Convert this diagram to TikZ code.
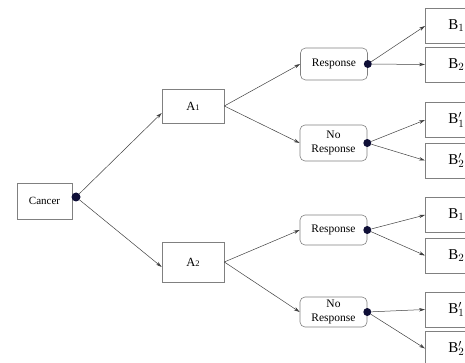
\documentclass[tikz,border=0pt]{standalone}
\usepackage{fontspec}
\setmainfont{Liberation Serif}
\usetikzlibrary{arrows.meta}

\definecolor{dotblue}{RGB}{15,15,55}

\tikzset{
  box/.style={draw=black!50, line width=0.6pt, inner sep=0pt, align=center},
  rbox/.style={box, rounded corners=5pt, minimum width=67pt, font=\fontsize{11.5}{13.5}\selectfont},
  bbox/.style={box, anchor=west, minimum width=62pt, minimum height=35pt, font=\fontsize{15}{17}\selectfont},
  dot/.style={circle, fill=dotblue, inner sep=0pt, minimum size=8pt},
  link/.style={draw=black!75, line width=0.5pt, -{Stealth[length=6pt,width=3.5pt]}},
}

\begin{document}
\begin{tikzpicture}[x=1pt,y=-1pt]
\clip (0,0) rectangle (465,363);

% root
\node[box, minimum width=55pt, minimum height=36pt, font=\fontsize{11}{13}\selectfont] (cancer) at (44.5,201) {Cancer};
\node[dot, minimum size=9pt] (d0) at (76,197) {};

% treatments
\node[box, minimum width=62pt, minimum height=34pt, font=\fontsize{12.5}{14}\selectfont] (a1) at (193,106) {A{\fontsize{8.5}{9}\selectfont 1}};
\node[box, minimum width=62pt, minimum height=40pt, font=\fontsize{12.5}{14}\selectfont] (a2) at (193,262) {A{\fontsize{8.5}{9}\selectfont 2}};

% responses
\node[rbox, minimum height=32pt] (r1) at (334,64) {Response};
\node[rbox, minimum height=36pt] (n1) at (333.5,143) {No\\Response};
\node[rbox, minimum height=30pt] (r2) at (333.5,230) {Response};
\node[rbox, minimum height=30pt] (n2) at (333.5,312) {No\\Response};

% outcomes
\foreach \y/\lab/\nm in {26/B$_1$/b1, 64.5/B$_2$/b2, 120/B$'_1$/b3, 160.5/B$'_2$/b4,
                          215/B$_1$/b5, 255.5/B$_2$/b6, 309.5/B$'_1$/b7, 348.5/B$'_2$/b8} {
\node[bbox] (\nm) at (425,\y) {\lab};
}

\foreach \n in {r1,n1,r2,n2} {
\node[dot] (d\n) at (\n.east) {};
}

\draw[link] (d0) -- ([yshift=-7pt]a1.west);
\draw[link] (d0) -- ([yshift=-5pt]a2.west);
\draw[link] (a1.east) -- (r1.west);
\draw[link] (a1.east) -- (n1.west);
\draw[link] (a2.east) -- (r2.west);
\draw[link] (a2.east) -- (n2.west);

\foreach \s/\t in {r1/b1, r1/b2, n1/b3, n1/b4, r2/b5, r2/b6, n2/b7, n2/b8} {
\draw[link] (d\s) -- (\t.west);
}
\end{tikzpicture}
\end{document}
